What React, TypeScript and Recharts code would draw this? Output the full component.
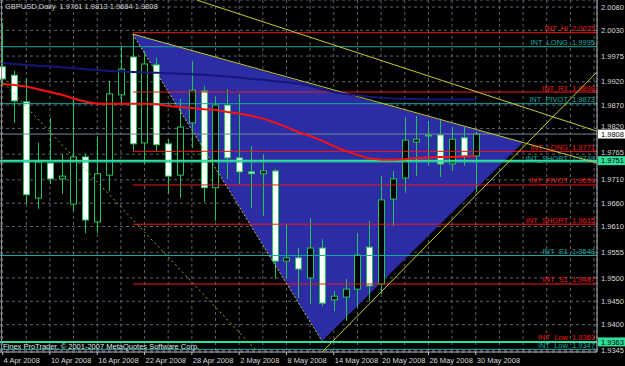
import React from 'react'
import { ComposedChart, Bar, Line, Area, XAxis, YAxis, CartesianGrid, ReferenceLine } from 'recharts'

const FONT = '"Liberation Sans", Arial, sans-serif'

// daily bars, 4 Apr 2008 .. 30 May 2008
const bars = Array.from({ length: 41 }, (_, k) => k)
const opens = [1.9952, 1.9934, 1.9877, 1.9671, 1.9746, 1.9712, 1.9658, 1.9759, 1.9620, 1.9720, 1.9892, 1.9973, 1.9789, 1.9956, 1.9787, 1.9720, 1.9832, 1.9900, 1.9693, 1.9870, 1.9757, 1.9727, 1.9723, 1.9729, 1.9536, 1.9543, 1.9500, 1.9564, 1.9453, 1.9459, 1.9476, 1.9566, 1.9487, 1.9669, 1.9714, 1.9791, 1.9804, 1.9806, 1.9744, 1.9800, 1.9761]
const highs = [2.0046, 1.9943, 1.9928, 1.9789, 1.9842, 1.9765, 1.9883, 1.9765, 1.9804, 1.9922, 1.9997, 2.0022, 1.9986, 1.9971, 1.9797, 1.9883, 1.9964, 1.9911, 1.9889, 1.9904, 1.9894, 1.9782, 1.9765, 1.9733, 1.9615, 1.9564, 1.9628, 1.9583, 1.9472, 1.9498, 1.9596, 1.9622, 1.9718, 1.9729, 1.9844, 1.9847, 1.9836, 1.9840, 1.9823, 1.9823, 1.9813]
const lows = [1.9911, 1.9832, 1.9658, 1.9648, 1.9701, 1.9680, 1.9643, 1.9596, 1.9596, 1.9686, 1.9872, 1.9772, 1.9744, 1.9770, 1.9680, 1.9671, 1.9778, 1.9663, 1.9622, 1.9712, 1.9701, 1.9650, 1.9633, 1.9498, 1.9498, 1.9457, 1.9444, 1.9440, 1.9429, 1.9408, 1.9436, 1.9451, 1.9466, 1.9611, 1.9682, 1.9718, 1.9740, 1.9716, 1.9729, 1.9740, 1.9684]
const closes = [1.9926, 1.9879, 1.9678, 1.9748, 1.9712, 1.9718, 1.9759, 1.9624, 1.9723, 1.9894, 1.9947, 1.9787, 1.9958, 1.9785, 1.9718, 1.9823, 1.9902, 1.9693, 1.9870, 1.9757, 1.9727, 1.9723, 1.9729, 1.9536, 1.9543, 1.9519, 1.9564, 1.9446, 1.9461, 1.9476, 1.9549, 1.9483, 1.9667, 1.9712, 1.9795, 1.9797, 1.9806, 1.9744, 1.9797, 1.9761, 1.9808]

const maFast = [1.9915, 1.9913, 1.9910, 1.9904, 1.9898, 1.9892, 1.9884, 1.9877, 1.9873, 1.9873, 1.9873, 1.9873, 1.9873, 1.9872, 1.9868, 1.9866, 1.9864, 1.9861, 1.9860, 1.9855, 1.9852, 1.9847, 1.9841, 1.9833, 1.9823, 1.9812, 1.9804, 1.9794, 1.9782, 1.9772, 1.9763, 1.9756, 1.9753, 1.9753, 1.9754, 1.9757, 1.9758, 1.9759, 1.9759, 1.9760, 1.9761]
const maSlow = [1.9960, 1.9958, 1.9956, 1.9954, 1.9953, 1.9951, 1.9949, 1.9947, 1.9945, 1.9943, 1.9942, 1.9941, 1.9940, 1.9939, 1.9938, 1.9937, 1.9936, 1.9935, 1.9933, 1.9931, 1.9929, 1.9926, 1.9924, 1.9921, 1.9919, 1.9916, 1.9911, 1.9904, 1.9898, 1.9894, 1.9891, 1.9888, 1.9886, 1.9884, 1.9883, 1.9883, 1.9882, 1.9882, 1.9882, 1.9882, 1.9882]

const dateLabels = ['4 Apr 2008', '10 Apr 2008', '16 Apr 2008', '22 Apr 2008', '28 Apr 2008', '2 May 2008', '8 May 2008', '14 May 2008', '20 May 2008', '26 May 2008', '30 May 2008']
const gridBars = Array.from({ length: 26 }, (_, k) => k * 2)
const priceTicks = [2.0080, 2.0030, 1.9975, 1.9920, 1.9870, 1.9820, 1.9765, 1.9710, 1.9660, 1.9610, 1.9555, 1.9500, 1.9450, 1.9400, 1.9345]

// horizontal levels drawn by the indicator
const levelNames = ['INT_Hi', 'INT_LONG', 'INT_R1', 'INT_PIVOT', 'INT_LONG', 'INT_SHORT', 'INT_PIVOT', 'INT_SHORT', 'INT_S1', 'INT_S1', 'INT_Low', 'INT_Low']
const levelValues = [2.0025, 1.9995, 1.9898, 1.9873, 1.9771, 1.9748, 1.9699, 1.9615, 1.9548, 1.9487, 1.9363, 1.9347]
const levelIsRed = [true, false, true, false, true, false, true, true, false, true, true, false]
const levelFrom = [11, null, 11, null, 11, null, 11, 11, null, 11, null, null]

const bidPrice = 1.9808
const markPrices = [1.9751, 1.9363]

// triangle object: bar index, low edge, high edge
const triBars = [11, 27, 44]
const triLow = [2.0022, 1.9365, 1.9790]
const triHigh = [2.0022, 1.9907, 1.9790]

// trend lines (bar index, price)
const trendTop = [{ i: 16.4, p: 2.0095 }, { i: 50.25, p: 1.9814 }]
const trendTriTop = [{ i: 11, p: 2.0022 }, { i: 50.25, p: 1.9746 }]
const trendTriLeft = [{ i: 11, p: 2.0022 }, { i: 27, p: 1.9365 }]
const trendChannel = [{ i: 27, p: 1.9341 }, { i: 50.25, p: 1.9941 }]
const trendDotted = [{ i: -0.22, p: 1.9926 }, { i: 21.4, p: 1.9346 }]

const X_MIN = -0.22
const X_MAX = 50.25
const P_MIN = 1.93414
const P_MAX = 2.0095

const RED = '#f01818'
const TEAL = '#1aa8a2'
const GREEN = '#1fc45a'
const MARK = '#30e09a'

const Candle = (props: any) => {
  const { x, y, width, height, payload } = props
  if (x == null || y == null) return null
  const top = Math.min(y, y + height)
  const h = Math.abs(height)
  const ratio = h / (payload.h - payload.l)
  const bodyTop = top + (payload.h - Math.max(payload.o, payload.c)) * ratio
  const bodyBot = top + (payload.h - Math.min(payload.o, payload.c)) * ratio
  const cx = Math.round(x + width / 2) + 0.5
  const bull = payload.c >= payload.o
  return (
    <g>
      <line x1={cx} x2={cx} y1={top} y2={top + h} stroke={GREEN} strokeWidth={1} />
      <rect
        x={cx - 3}
        y={bodyTop}
        width={6}
        height={Math.max(1, bodyBot - bodyTop)}
        fill={bull ? '#000' : '#fff'}
        stroke={GREEN}
        strokeWidth={1}
      />
    </g>
  )
}

const DateTick = (props: any) => {
  const { x, y, payload } = props
  const v = payload.value
  if (v % 4 !== 0 || v / 4 >= dateLabels.length) return null
  return (
    <g>
      <line x1={x} x2={x} y1={y} y2={y + 3} stroke="#c0c0c0" />
      <text x={x + 1} y={y + 11} fontSize={7.5} fill="#d8d8d8" fontFamily={FONT}>
        {dateLabels[v / 4]}
      </text>
    </g>
  )
}

const PriceTick = (props: any) => {
  const { x, y, payload } = props
  const v = payload.value
  // nudge a tick label that sits just above a highlighted price box
  const boxes = [bidPrice, ...markPrices]
  const near = boxes.some((b) => v > b && v - b < 0.0016)
  return (
    <text x={x + 4} y={y + 2.6 - (near ? 2 : 0)} fontSize={7.5} fill="#d8d8d8" fontFamily={FONT}>
      {v.toFixed(4)}
    </text>
  )
}

const PriceBox = ({ viewBox, value, bg }: any) => {
  if (!viewBox) return null
  const x = viewBox.x + viewBox.width + 1
  const y = viewBox.y
  return (
    <g>
      <rect x={x} y={y - 4.5} width={27} height={9} fill={bg} />
      <text x={x + 3} y={y + 2.6} fontSize={7.5} fill="#000" fontFamily={FONT}>
        {value.toFixed(4)}
      </text>
    </g>
  )
}

const LevelLabel = ({ viewBox, text, color }: any) => {
  if (!viewBox) return null
  return (
    <text
      x={viewBox.x + viewBox.width - 2}
      y={viewBox.y - 1.5}
      textAnchor="end"
      fontSize={7.5}
      fill={color}
      fontFamily={FONT}
      style={{ whiteSpace: 'pre' }}
    >
      {text}
    </text>
  )
}

export default function App() {
  const data = bars.map((i, k) => ({
    i,
    o: opens[k],
    h: highs[k],
    l: lows[k],
    c: closes[k],
    range: [lows[k], highs[k]],
    ma1: maFast[k],
    ma2: maSlow[k],
  }))
  const triangle = triBars.map((i, k) => ({ i, band: [triLow[k], triHigh[k]] }))
  const last = bars.length - 1
  const title = `GBPUSD,Daily  ${opens[last].toFixed(4)} ${highs[last].toFixed(4)} ${lows[last].toFixed(4)} ${closes[last].toFixed(4)}`

  return (
    <div style={{ position: 'absolute', left: 0, top: 0, width: 625, height: 366, background: '#000' }}>
      <ComposedChart width={625} height={366} data={data} margin={{ top: 0, right: 0, bottom: 0, left: 0 }}>
        <XAxis
          type="number"
          dataKey="i"
          domain={[X_MIN, X_MAX]}
          allowDataOverflow
          ticks={gridBars}
          interval={0}
          height={14}
          tickSize={0}
          tickMargin={0}
          tick={DateTick}
          tickLine={false}
          axisLine={{ stroke: '#b4b4b4' }}
        />
        <YAxis
          orientation="right"
          type="number"
          domain={[P_MIN, P_MAX]}
          allowDataOverflow
          ticks={priceTicks}
          interval={0}
          width={28}
          tickSize={0}
          tickMargin={0}
          tick={PriceTick}
          tickLine={false}
          axisLine={{ stroke: '#b4b4b4' }}
        />
        <Area
          data={triangle}
          dataKey="band"
          type="linear"
          fill="#2c2ca4"
          fillOpacity={1}
          stroke="none"
          dot={false}
          activeDot={false}
          isAnimationActive={false}
        />
        <CartesianGrid strokeDasharray="3 3" stroke="#5a6270" />
        <Bar dataKey="range" barSize={7} shape={Candle} isAnimationActive={false} />
        <ReferenceLine y={bidPrice} stroke="#778899" label={(p: any) => <PriceBox {...p} value={bidPrice} bg="#ffffff" />} />
        {levelValues.map((v, k) => {
          const color = levelIsRed[k] ? RED : TEAL
          const from = levelFrom[k]
          const text = `${levelNames[k]}  ${v.toFixed(4)}`
          const label = (p: any) => <LevelLabel {...p} text={text} color={color} />
          return from == null ? (
            <ReferenceLine key={k} y={v} stroke={color} label={label} />
          ) : (
            <ReferenceLine key={k} segment={[{ x: from, y: v }, { x: X_MAX, y: v }]} stroke={color} label={label} />
          )
        })}
        {markPrices.map((v, k) => (
          <ReferenceLine
            key={`m${k}`}
            y={v}
            stroke={MARK}
            strokeWidth={2}
            label={(p: any) => <PriceBox {...p} value={v} bg={MARK} />}
          />
        ))}
        <Line data={trendTop} dataKey="p" type="linear" stroke="#c8c830" dot={false} activeDot={false} isAnimationActive={false} />
        <Line data={trendTriTop} dataKey="p" type="linear" stroke="#c8c840" dot={false} activeDot={false} isAnimationActive={false} />
        <Line data={trendTriLeft} dataKey="p" type="linear" stroke="#c8c830" strokeDasharray="2 2" dot={false} activeDot={false} isAnimationActive={false} />
        <Line data={trendChannel} dataKey="p" type="linear" stroke="#c8c830" dot={false} activeDot={false} isAnimationActive={false} />
        <Line data={trendDotted} dataKey="p" type="linear" stroke="#a8a828" strokeDasharray="2 3" dot={false} activeDot={false} isAnimationActive={false} />
        <Line dataKey="ma2" type="linear" stroke="#16167a" strokeWidth={2} dot={false} activeDot={false} isAnimationActive={false} />
        <Line dataKey="ma1" type="linear" stroke="#ff1010" strokeWidth={2} dot={false} activeDot={false} isAnimationActive={false} />
      </ComposedChart>
      <div style={{ position: 'absolute', left: 1, top: 0, width: 1, height: 352, background: '#8a8a8a' }} />
      <div style={{ position: 'absolute', left: 5, top: 2, font: `7.5px ${FONT}`, color: '#d8d8d8', whiteSpace: 'pre' }}>{title}</div>
      <div style={{ position: 'absolute', left: 3, top: 342, font: `7.5px ${FONT}`, color: '#e8e8e8', whiteSpace: 'pre' }}>
        Finex ProTrader, © 2001-2007 MetaQuotes Software Corp.
      </div>
    </div>
  )
}
